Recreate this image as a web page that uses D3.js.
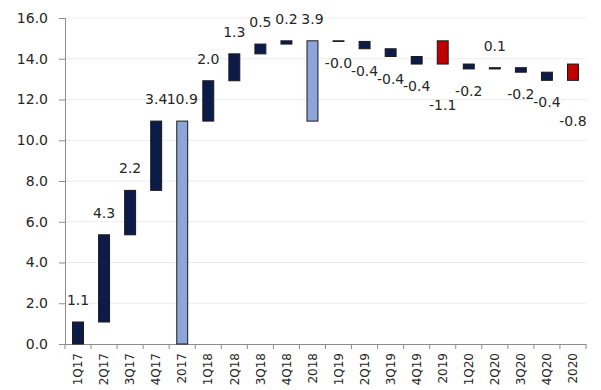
<!DOCTYPE html>
<html>
<head>
<meta charset="utf-8">
<script src="https://cdn.jsdelivr.net/npm/d3@7"></script>
<style>
  body { margin: 0; background: #fff; }
  text { font-family: "DejaVu Sans", sans-serif; fill: #262626; }
</style>
</head>
<body>
<svg id="chart" width="601" height="390"></svg>
<script>
// categories and the change of each step (totals carry the year's change)
var categories = ["1Q17","2Q17","3Q17","4Q17","2017","1Q18","2Q18","3Q18","4Q18","2018",
                  "1Q19","2Q19","3Q19","4Q19","2019","1Q20","2Q20","3Q20","4Q20","2020"];
var deltas = [1.08, 4.28, 2.18, 3.40, 10.94,
              1.98, 1.32, 0.48, 0.16, 3.94,
              -0.03, -0.36, -0.38, -0.37, -1.14,
              -0.24, 0.06, -0.22, -0.40, -0.80];
var isTotal = [false,false,false,false,true,
               false,false,false,false,true,
               false,false,false,false,true,
               false,false,false,false,true];
var yTicks = [0, 2, 4, 6, 8, 10, 12, 14, 16];

var svg = d3.select('#chart');
var padding = {t: 18, r: 15, b: 46, l: 65};
var width = 601, height = 390;

var x = d3.scaleBand().domain(categories).range([padding.l, width - padding.r]).padding(0);
var y = d3.scaleLinear().domain([0, 16]).range([height - padding.b, padding.t]);

// build waterfall rows: quarters step from the running level, totals span the whole year
var rows = [];
var level = 0, yearStart = 0;
categories.forEach(function(c, i) {
    var d = deltas[i];
    if (isTotal[i]) {
        var end = yearStart + d;
        rows.push({cat: c, v: d, lo: Math.min(yearStart, end), hi: Math.max(yearStart, end), total: true});
        yearStart = end;
        level = end;
    } else {
        var next = level + d;
        rows.push({cat: c, v: d, lo: Math.min(level, next), hi: Math.max(level, next), total: false});
        level = next;
    }
});

// plain hyphen for negatives, like the original
var locale = d3.formatLocale({decimal: '.', thousands: ',', grouping: [3], currency: ['', ''], minus: '-'});
var fmt = locale.format('.1f');

// gridlines
svg.append('g').selectAll('line').data(yTicks.slice(1)).enter().append('line')
    .attr('x1', padding.l).attr('x2', width - padding.r)
    .attr('y1', d => y(d)).attr('y2', d => y(d))
    .attr('stroke', '#ececec').attr('stroke-width', 1);

// y axis
var yAxis = svg.append('g')
    .attr('transform', 'translate(' + padding.l + ',0)')
    .call(d3.axisLeft(y).tickValues(yTicks).tickFormat(fmt).tickSize(6).tickPadding(11));
yAxis.selectAll('text').style('font-size', '14px');
yAxis.selectAll('line, path').attr('stroke', '#8c8c8c');

// x axis
var xAxis = svg.append('g')
    .attr('transform', 'translate(0,' + y(0) + ')')
    .call(d3.axisBottom(x).tickSize(0).tickSizeOuter(0));
xAxis.select('path').attr('stroke', '#8c8c8c');
xAxis.selectAll('text')
    .style('font-size', '12px')
    .attr('text-anchor', 'end')
    .attr('transform', 'rotate(-90)')
    .attr('x', -9).attr('y', 0).attr('dy', '0.35em');
// boundary ticks between categories
var bounds = categories.map(c => x(c)).concat([x.range()[1]]);
xAxis.selectAll('.bound').data(bounds).enter().append('line')
    .attr('class', 'bound')
    .attr('x1', d => d).attr('x2', d => d)
    .attr('y1', 0).attr('y2', 5)
    .attr('stroke', '#8c8c8c');

// bars
var barW = x.bandwidth() * 0.42;
svg.append('g').selectAll('rect').data(rows).enter().append('rect')
    .attr('x', d => x(d.cat) + (x.bandwidth() - barW) / 2)
    .attr('y', d => y(d.hi))
    .attr('width', barW)
    .attr('height', d => Math.max(0.5, y(d.lo) - y(d.hi)))
    .attr('fill', d => d.total ? (d.v >= 0 ? '#8da6da' : '#c00000') : '#0c1b4a')
    .attr('stroke', '#1a1a1a').attr('stroke-width', 1);

// value labels
svg.append('g').selectAll('text').data(rows).enter().append('text')
    .attr('x', d => x(d.cat) + x.bandwidth() / 2)
    .attr('y', function(d) {
        if (d.v >= 0) return y(d.hi) - 17;
        return y(d.lo) + (d.total ? 46 : 27);
    })
    .attr('text-anchor', 'middle')
    .style('font-size', '14px')
    .text(d => d.v < 0 && fmt(d.v) === '0.0' ? '-0.0' : fmt(d.v));
</script>
</body>
</html>
